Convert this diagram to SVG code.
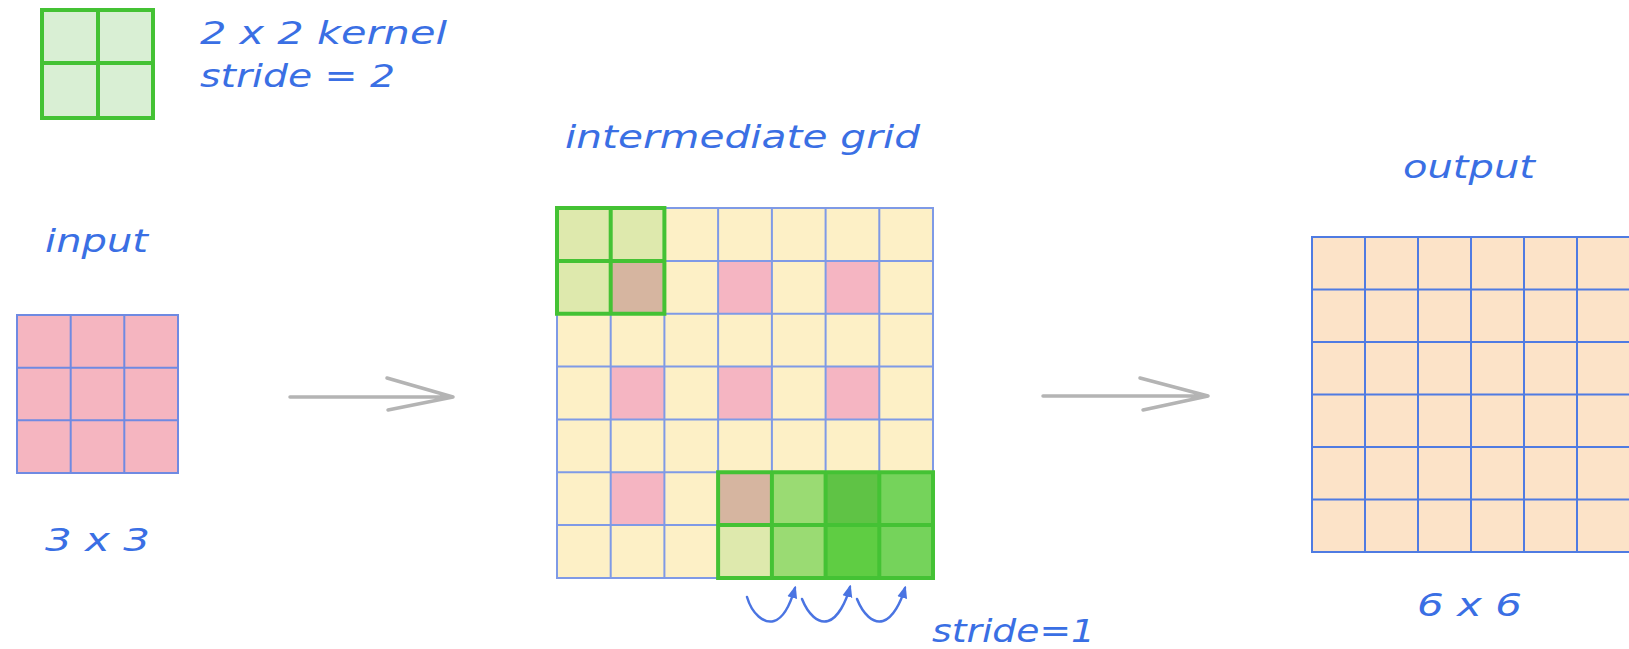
<svg xmlns="http://www.w3.org/2000/svg" width="1629" height="649" viewBox="0 0 1629 649">
<defs>
<style>
.lbl{font-family:"DejaVu Sans",sans-serif;font-style:italic;font-size:32px;fill:#3a6fe4;}
.gl{fill:none;stroke:#7f9ae6;stroke-width:2;}
.gk{fill:none;stroke:#44c234;stroke-width:4;}
.arr{fill:none;stroke:#b4b4b4;stroke-width:3.5;stroke-linecap:round;stroke-linejoin:round;}
.arc{fill:none;stroke:#4a74e2;stroke-width:2.5;stroke-linecap:round;}
.pink{fill:#f5b5c2;}
.brown{fill:#d6b5a0;}
.pale{fill:#dee9ad;}
</style>
<marker id="ah" viewBox="0 0 10 10" refX="8" refY="5" markerWidth="5" markerHeight="5" orient="auto">
<path d="M0,1 L10,5 L0,9 z" fill="#4a74e2"/>
</marker>
</defs>
<rect width="1629" height="649" fill="#ffffff"/>

<g id="kernel-legend">
<rect x="42" y="10" width="111" height="108" fill="#d9efd4"/>
<path class="gk" d="M42,10 H153 V118 H42 Z M98,10 V118 M42,63 H153"/>
<text class="lbl" x="200" y="44" textLength="247" lengthAdjust="spacingAndGlyphs">2 x 2 kernel</text>
<text class="lbl" x="200" y="87" textLength="195" lengthAdjust="spacingAndGlyphs">stride = 2</text>
</g>

<g id="input">
<text class="lbl" x="45" y="252" textLength="103" lengthAdjust="spacingAndGlyphs">input</text>
<rect x="17" y="315" width="161" height="158" fill="#f5b5c0"/>
<path fill="none" stroke="#6f8ae2" stroke-width="2" d="M17,315 H178 V473 H17 Z M70.7,315 V473 M124.3,315 V473 M17,367.7 H178 M17,420.3 H178"/>
<text class="lbl" x="45" y="551" textLength="105" lengthAdjust="spacingAndGlyphs">3 x 3</text>
</g>

<g id="intermediate-grid">
<text class="lbl" x="565" y="148" textLength="355" lengthAdjust="spacingAndGlyphs">intermediate grid</text>
<rect x="557" y="208" width="376" height="370" fill="#fdf0c6"/>
<rect class="pink" x="718.1" y="260.9" width="53.7" height="52.8"/>
<rect class="pink" x="825.6" y="260.9" width="53.7" height="52.8"/>
<rect class="pink" x="610.7" y="366.6" width="53.7" height="52.8"/>
<rect class="pink" x="718.1" y="366.6" width="53.7" height="52.8"/>
<rect class="pink" x="825.6" y="366.6" width="53.7" height="52.8"/>
<rect class="pink" x="610.7" y="472.3" width="53.7" height="52.8"/>
<rect class="pale" x="557" y="208" width="53.7" height="52.9"/>
<rect class="pale" x="610.7" y="208" width="53.7" height="52.9"/>
<rect class="pale" x="557" y="260.9" width="53.7" height="52.8"/>
<rect class="brown" x="610.7" y="260.9" width="53.7" height="52.8"/>
<rect class="brown" x="718.1" y="472.3" width="53.7" height="52.8"/>
<rect class="pale" x="718.1" y="525.1" width="53.7" height="52.9"/>
<rect fill="#9adb73" x="771.9" y="472.3" width="53.7" height="105.7"/>
<rect fill="#5fc345" x="825.6" y="472.3" width="53.7" height="52.8"/>
<rect fill="#5fcd43" x="825.6" y="525.1" width="53.7" height="52.9"/>
<rect fill="#75d35b" x="879.3" y="472.3" width="53.7" height="105.7"/>
<path class="gl" d="M557,208 H933 V578 H557 Z M610.7,208 V578 M664.4,208 V578 M718.1,208 V578 M771.9,208 V578 M825.6,208 V578 M879.3,208 V578 M557,260.9 H933 M557,313.7 H933 M557,366.6 H933 M557,419.4 H933 M557,472.3 H933 M557,525.1 H933"/>
<path class="gk" d="M557,208 H664.4 V313.7 H557 Z M610.7,208 V313.7 M557,260.9 H664.4"/>
<path class="gk" d="M718.1,472.3 H933 V578 H718.1 Z M771.9,472.3 V578 M825.6,472.3 V578 M879.3,472.3 V578 M718.1,525.1 H933"/>
</g>

<g id="output">
<text class="lbl" x="1403" y="178" textLength="132" lengthAdjust="spacingAndGlyphs">output</text>
<rect x="1312" y="237" width="318" height="315" fill="#fce3c8"/>
<path fill="none" stroke="#4f7be2" stroke-width="2" d="M1630,237 H1312 V552 H1630 M1365,237 V552 M1418,237 V552 M1471,237 V552 M1524,237 V552 M1577,237 V552 M1312,289.5 H1630 M1312,342 H1630 M1312,394.5 H1630 M1312,447 H1630 M1312,499.5 H1630"/>
<text class="lbl" x="1417" y="616" textLength="105" lengthAdjust="spacingAndGlyphs">6 x 6</text>
</g>

<g id="connectors">
<path class="arr" d="M290,397 L453,397 M387,378 L453,397 L388,410"/>
<path class="arr" d="M1043,396 L1208,396 M1140,378 L1208,396 L1143,410"/>
<path class="arc" marker-end="url(#ah)" d="M747,597 C752,614 764,624 774,621 C784,618 791,602 795,588"/>
<path class="arc" marker-end="url(#ah)" d="M802,599 C808,614 818,624 828,621 C838,618 846,602 850,587"/>
<path class="arc" marker-end="url(#ah)" d="M857,599 C863,614 873,624 883,621 C893,618 901,602 905,588"/>
</g>

<g id="stride-label">
<text class="lbl" x="932" y="642" textLength="163" lengthAdjust="spacingAndGlyphs">stride=1</text>
</g>
</svg>
